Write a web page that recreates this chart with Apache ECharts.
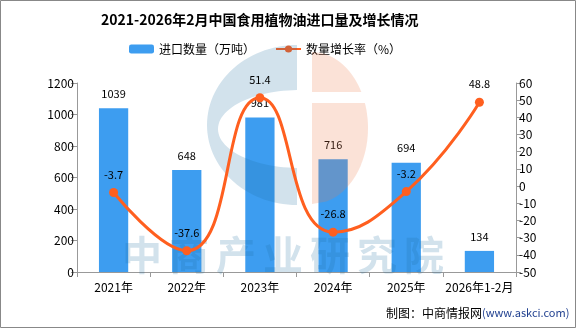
<!DOCTYPE html>
<html><head><meta charset="utf-8">
<script src="https://cdn.jsdelivr.net/npm/echarts@6/dist/echarts.min.js"></script>
<style>html,body{margin:0;padding:0;background:#fff}#c{width:576px;height:328px}</style>
</head><body><div id="c"></div>
<script>
const categories = ['2021年','2022年','2023年','2024年','2025年','2026年1-2月'];
const importVolume = [1039, 648, 981, 716, 694, 134];
const growthRate = [-3.7, -37.6, 51.4, -26.8, -3.2, 48.8];
const titleText = '2021-2026年2月中国食用植物油进口量及增长情况';
const seriesNames = ['进口数量（万吨）', '数量增长率（%）'];
const watermarkChars = ['中','商','产','业','研','究','院'];

const FONT = '"Noto Sans CJK SC", "Noto Sans", sans-serif';

// watermark logo outline helpers (decorative, not data)
function ellPts(cx, cy, rx, ry, a0, a1, n) {
  const pts = [];
  for (let i = 0; i <= n; i++) {
    const a = (a0 + (a1 - a0) * i / n) * Math.PI / 180;
    pts.push([cx + rx * Math.cos(a), cy + ry * Math.sin(a)]);
  }
  return pts;
}
const leftOuter = ellPts(297, 125, 90, 80, 270, 90, 60);
const innerE = ellPts(300, 129, 82, 39, 95, 265, 50);
const leftPoly = leftOuter.concat([[297, 168]], innerE, [[297, 90]]);
function rightPiece(y0, y1) {
  const pts = [];
  const cx = 312, cy = 128, rx = 56, ry = 76;
  for (let i = 0; i <= 40; i++) {
    const y = y0 + (y1 - y0) * i / 40;
    const t = 1 - Math.pow((y - cy) / ry, 2);
    pts.push([cx + rx * Math.sqrt(Math.max(0, t)), y]);
  }
  pts.push([312, y1]); pts.push([312, y0]);
  return pts;
}
const rightTop = rightPiece(52, 92);
const rightBot = rightPiece(103, 204);

const wmText = watermarkChars.map((ch, i) => ({
  type: 'text', z: 5, silent: true, x: 142 + 47 * i, y: 255,
  style: {text: ch, fontSize: 40, fontWeight: 'bold', fontFamily: FONT,
          fill: 'rgba(30,110,160,0.2)', align: 'center', verticalAlign: 'middle'}
}));

const chart = echarts.init(document.getElementById('c'), null, {renderer: 'canvas'});
chart.setOption({
  animation: false,
  backgroundColor: '#fff',
  title: {
    text: titleText, left: 101, top: 13, padding: 0,
    textStyle: {fontSize: 14, fontWeight: 'bold', color: '#000', fontFamily: FONT}
  },
  legend: {
    top: 43, left: 129, padding: 0, itemGap: 20, itemWidth: 25, itemHeight: 9,
    textStyle: {fontSize: 12, color: '#000', fontFamily: FONT},
    data: [seriesNames[0], seriesNames[1]]
  },
  grid: {left: 77, right: 60, top: 83, bottom: 56},
  xAxis: {
    type: 'category', data: categories, boundaryGap: true,
    axisLine: {lineStyle: {color: '#999'}},
    axisTick: {show: true, alignWithLabel: false, length: 5, lineStyle: {color: '#999'}},
    axisLabel: {color: '#000', fontSize: 12, margin: 9, fontFamily: FONT, interval: 0}
  },
  yAxis: [{
    type: 'value', min: 0, max: 1200, interval: 200,
    axisLine: {show: true, lineStyle: {color: '#999'}},
    axisTick: {show: true, length: 6, lineStyle: {color: '#999'}},
    splitLine: {show: false},
    axisLabel: {color: '#000', fontSize: 12, margin: 3, fontFamily: FONT, formatter: v => String(v)}
  }, {
    type: 'value', min: -50, max: 60, interval: 10, position: 'right',
    axisLine: {show: true, lineStyle: {color: '#999'}},
    axisTick: {show: true, length: 5, lineStyle: {color: '#999'}},
    splitLine: {show: false},
    axisLabel: {color: '#000', fontSize: 12, margin: 3, fontFamily: FONT, formatter: v => String(v)}
  }],
  series: [{
    name: seriesNames[0], type: 'bar', data: importVolume, barWidth: '40%', z: 2,
    itemStyle: {color: '#3d9df0'},
    label: {show: true, position: 'top', distance: 9, color: '#000', fontSize: 11, fontFamily: FONT}
  }, {
    name: seriesNames[1], type: 'line', yAxisIndex: 1, data: growthRate, smooth: true, z: 10,
    symbol: 'circle', symbolSize: 9,
    lineStyle: {color: '#ff5f1f', width: 3},
    itemStyle: {color: '#ff5f1f'},
    label: {show: true, position: 'top', distance: 8, color: '#000', fontSize: 11, fontFamily: FONT}
  }],
  graphic: [
    {type: 'polygon', z: 5, silent: true, shape: {points: leftPoly},
     style: {fill: 'rgba(30,110,160,0.2)'}},
    {type: 'polygon', z: 5, silent: true, shape: {points: rightTop},
     style: {fill: 'rgba(239,125,75,0.22)'}},
    {type: 'polygon', z: 5, silent: true, shape: {points: rightBot},
     style: {fill: 'rgba(239,125,75,0.22)'}}
  ].concat(wmText, [
    {type: 'text', z: 20, x: 482, y: 313,
     style: {text: '制图：中商情报网', fontSize: 12, fontFamily: FONT, fill: '#000', align: 'right', verticalAlign: 'middle'}},
    {type: 'text', z: 20, x: 482, y: 313,
     style: {text: '(www.askci.com)', fontSize: 11, fontFamily: FONT, fill: '#1f3f8f', align: 'left', verticalAlign: 'middle'}},
    {type: 'rect', z: 30, silent: true, shape: {x: 0.5, y: 0.5, width: 575, height: 327},
     style: {fill: 'none', stroke: '#888', lineWidth: 1}}
  ])
});
</script></body></html>
